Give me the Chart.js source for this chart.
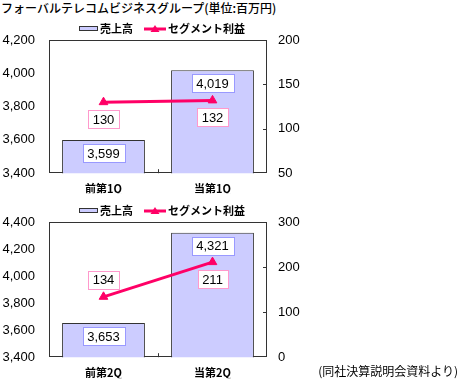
<!DOCTYPE html>
<html><head><meta charset="utf-8">
<script src="https://cdn.jsdelivr.net/npm/chart.js@4.4.0/dist/chart.umd.min.js"></script>
<style>
html,body{margin:0;padding:0;background:#fff;}
body{width:460px;height:379px;overflow:hidden;position:relative;}
#title{position:absolute;left:1px;top:-1px;font:500 12px "Noto Sans CJK JP";color:#000;white-space:nowrap;letter-spacing:0px;}
#note{position:absolute;right:2px;top:362px;font:12px "Noto Sans CJK JP";color:#000;white-space:nowrap;letter-spacing:0px;}
canvas{position:absolute;left:0;}
#c1{top:18px;}
#c2{top:200px;}
</style>
</head><body>
<div id="title">フォーバルテレコムビジネスグループ(単位:百万円)</div>
<canvas id="c1" width="320" height="177"></canvas>
<canvas id="c2" width="320" height="179"></canvas>
<div id="note">(同社決算説明会資料より)</div>
<script>
// ---- data ----
const seriesNames = ['売上高', 'セグメント利益'];
const categories1 = ['前第1Q', '当第1Q'];
const sales1 = [3599, 4019];
const profit1 = [130, 132];
const salesTicks1 = [3400, 3600, 3800, 4000, 4200];
const profitTicks1 = [50, 100, 150, 200];
const profitLabelSide1 = ['below', 'below'];

const categories2 = ['前第2Q', '当第2Q'];
const sales2 = [3653, 4321];
const profit2 = [134, 211];
const salesTicks2 = [3400, 3600, 3800, 4000, 4200, 4400];
const profitTicks2 = [0, 100, 200, 300];
const profitLabelSide2 = ['above', 'below'];

const NUM_FONT = '"Liberation Sans", Arial, sans-serif';
const JP_FONT = '"Noto Sans CJK JP", sans-serif';
const BAR_FILL = '#ccccff';
const FRAME = '#333333';
const PINK = '#ff0066';

function fmt(v){ return Number(v).toLocaleString('en-US'); }

const framePlugin = {
  id: 'frame',
  beforeDatasetsDraw(chart){
    const {ctx, chartArea:a} = chart;
    ctx.save();
    ctx.strokeStyle = FRAME; ctx.lineWidth = 1;
    ctx.strokeRect(Math.round(a.left)+0.5, Math.round(a.top)+0.5, Math.round(a.right-a.left)-1, Math.round(a.bottom-a.top)-1);
    const y1 = chart.scales.y1;
    y1.ticks.forEach((t, i) => {
      if (i === 0 || i === y1.ticks.length-1) return;
      const py = Math.round(y1.getPixelForValue(t.value)) + 0.5;
      ctx.beginPath(); ctx.moveTo(a.right-4, py); ctx.lineTo(a.right, py); ctx.stroke();
    });
    const x = chart.scales.x;
    const mid = Math.round((x.getPixelForValue(0) + x.getPixelForValue(1)) / 2) + 0.5;
    ctx.beginPath(); ctx.moveTo(mid, a.bottom-4); ctx.lineTo(mid, a.bottom); ctx.stroke();
    ctx.restore();
  }
};

function drawBox(ctx, text, cx, cy, border){
  ctx.font = '13px ' + NUM_FONT;
  const tw = ctx.measureText(text).width;
  const w = Math.round(tw + 9), h = 18;
  const x0 = Math.round(cx - w/2) + 0.5, y0 = Math.round(cy - h/2) + 0.5;
  ctx.fillStyle = '#fff';
  ctx.fillRect(x0, y0, w, h);
  ctx.strokeStyle = border; ctx.lineWidth = 1;
  ctx.strokeRect(x0, y0, w, h);
  ctx.fillStyle = '#000';
  ctx.textAlign = 'center'; ctx.textBaseline = 'middle';
  ctx.fillText(text, cx, cy + 1);
}

const labelPlugin = {
  id: 'boxLabels',
  afterDatasetsDraw(chart, args, opts){
    const {ctx} = chart;
    ctx.save();
    const barMeta = chart.getDatasetMeta(0);
    barMeta.data.forEach((el, i) => {
      drawBox(ctx, fmt(chart.data.datasets[0].data[i]), el.x, el.y + 13, '#9999ff');
    });
    const lineMeta = chart.getDatasetMeta(1);
    lineMeta.data.forEach((el, i) => {
      const side = opts.sides[i];
      drawBox(ctx, fmt(chart.data.datasets[1].data[i]), el.x, el.y + (side === 'above' ? -17 : 17), '#ff99cc');
    });
    ctx.restore();
  }
};

const legendPlugin = {
  id: 'customLegend',
  afterDraw(chart){
    const {ctx, chartArea:a} = chart;
    ctx.save();
    ctx.font = 'bold 11px ' + JP_FONT;
    const t1 = chart.data.datasets[0].label, t2 = chart.data.datasets[1].label;
    const w1 = ctx.measureText(t1).width, w2 = ctx.measureText(t2).width;
    const total = 18 + 3 + w1 + 11 + 22 + 2 + w2;
    const cx = (a.left + a.right)/2 + 4;
    let x = Math.round(cx - total/2);
    const y = Math.round(a.top - 11);
    ctx.fillStyle = BAR_FILL; ctx.strokeStyle = FRAME; ctx.lineWidth = 1;
    ctx.fillRect(x+0.5, y-2.5, 18, 4); ctx.strokeRect(x+0.5, y-2.5, 18, 4);
    x += 21;
    ctx.fillStyle = '#000'; ctx.textAlign = 'left'; ctx.textBaseline = 'middle';
    ctx.fillText(t1, x, y);
    x += w1 + 11;
    ctx.strokeStyle = PINK; ctx.lineWidth = 3;
    ctx.beginPath(); ctx.moveTo(x, y); ctx.lineTo(x+22, y); ctx.stroke();
    ctx.fillStyle = PINK;
    const tx = x + 11;
    ctx.beginPath(); ctx.moveTo(tx, y-4); ctx.lineTo(tx+4.5, y+3); ctx.lineTo(tx-4.5, y+3); ctx.closePath(); ctx.fill();
    x += 24;
    ctx.fillStyle = '#000';
    ctx.fillText(t2, x, y);
    ctx.restore();
  }
};

function makeChart(id, cats, sales, profit, sTicks, pTicks, sides){
  const sStep = sTicks[1] - sTicks[0];
  const pStep = pTicks[1] - pTicks[0];
  return new Chart(document.getElementById(id), {
    data: {
      labels: cats,
      datasets: [
        { type:'bar', label: seriesNames[0], data: sales, yAxisID:'y',
          backgroundColor: BAR_FILL, borderColor: FRAME, borderWidth: 1,
          barPercentage: 0.76, categoryPercentage: 1, order: 2 },
        { type:'line', label: seriesNames[1], data: profit, yAxisID:'y1',
          borderColor: PINK, borderWidth: 3, pointStyle:'triangle', pointRadius: 5,
          pointBackgroundColor: PINK, pointBorderColor: PINK, pointBorderWidth: 1, order: 1 }
      ]
    },
    options: {
      responsive: false, animation: false, devicePixelRatio: 1,
      layout: { padding: { top: 22, left: 0, right: 0, bottom: 0 } },
      plugins: { legend: { display: false }, tooltip: { enabled: false }, boxLabels: { sides } },
      scales: {
        x: { type:'category', offset: true,
             grid: { display:false, drawTicks:false }, border: { display:false },
             ticks: { color:'#000', padding: 9, font: { family: JP_FONT, size: 11, weight: 'bold' } },
             afterFit(s){ s.height = (id === 'c1') ? 20 : 21; } },
        y: { position:'left', min: sTicks[0], max: sTicks[sTicks.length-1],
             grid: { display:false, drawTicks:false }, border: { display:false },
             ticks: { stepSize: sStep, color:'#000', padding: 14, font: { family: NUM_FONT, size: 13 }, callback: v => fmt(v) },
             afterFit(s){ s.width = 49; } },
        y1: { position:'right', min: pTicks[0], max: pTicks[pTicks.length-1],
             grid: { display:false, drawTicks:false }, border: { display:false },
             ticks: { stepSize: pStep, color:'#000', padding: 11, font: { family: NUM_FONT, size: 13 }, callback: v => fmt(v) },
             afterFit(s){ s.width = 53; } }
      }
    },
    plugins: [framePlugin, labelPlugin, legendPlugin]
  });
}

makeChart('c1', categories1, sales1, profit1, salesTicks1, profitTicks1, profitLabelSide1);
makeChart('c2', categories2, sales2, profit2, salesTicks2, profitTicks2, profitLabelSide2);
</script>
</body></html>
